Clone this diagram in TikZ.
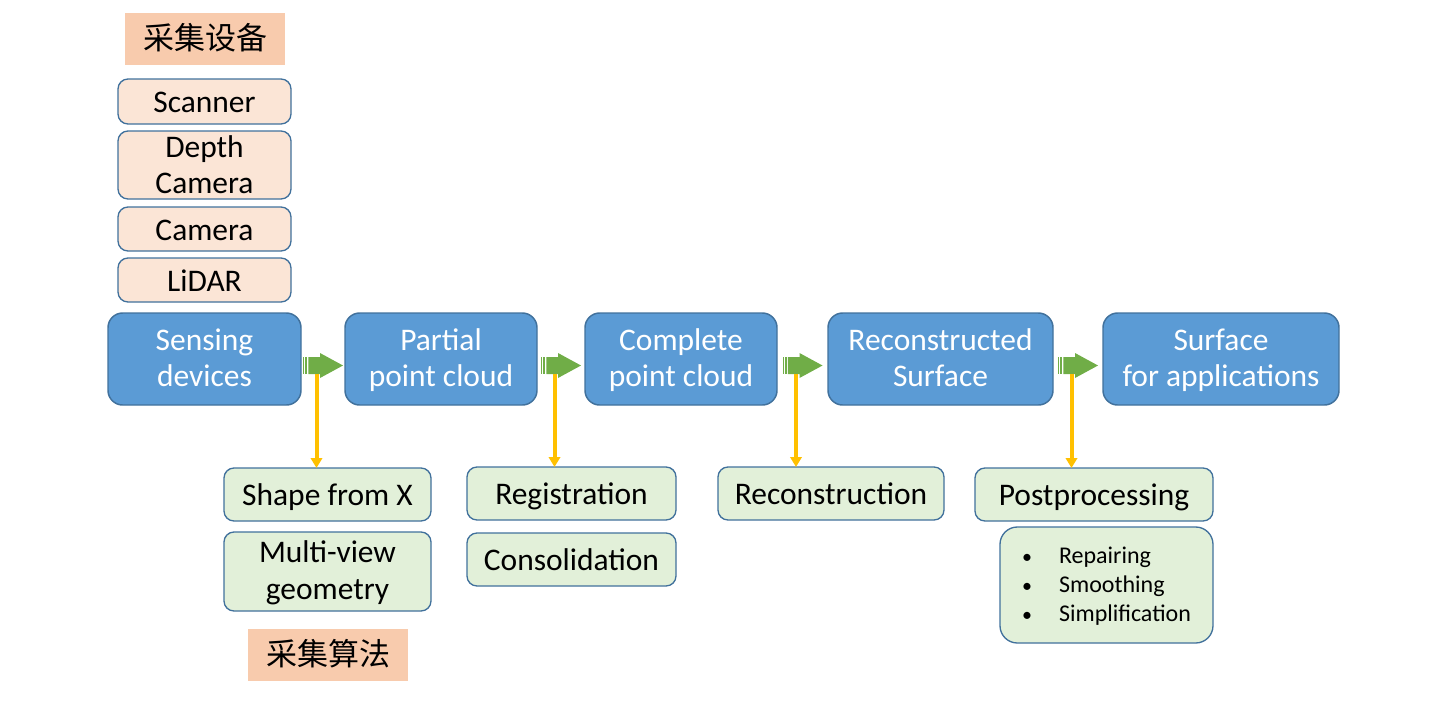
\documentclass[tikz,border=0pt]{standalone}
\usepackage{fontspec}
\setmainfont{Carlito}
\newfontfamily\cjk{Noto Sans CJK SC}
\usetikzlibrary{arrows.meta,calc}
\definecolor{bfill}{HTML}{5B9BD5}
\definecolor{bline}{HTML}{41719C}
\definecolor{pfill}{HTML}{FBE5D6}
\definecolor{gfill}{HTML}{E2F0D9}
\definecolor{lab}{HTML}{F8CBAD}
\definecolor{garr}{HTML}{70AD47}
\definecolor{yarr}{HTML}{FFC000}
\newcommand\bx[7]{\node[#6, minimum width={(#4-#2)*0.75pt}, minimum height={(#5-#3)*0.75pt}] (#1) at ({(#2+#4)/2},{(#3+#5)/2}) {#7};}
\newcommand\sts{\rule[-.245\baselineskip]{0pt}{\baselineskip}}
\newcommand\sto{\rule[-.2\baselineskip]{0pt}{\baselineskip}}
\newcommand\bl{\sts\makebox[27.75pt][l]{{\fontsize{15}{15}\selectfont\textbullet}}}
\newcommand\flow[3]{%
  \coordinate (m#1#2) at ($(#1.east)!.5!(#2.west)$);
  \begin{scope}[shift={(m#1#2)}]
    \fill[garr] (-20,-2) rectangle (-18.6,15);
    \fill[garr] (-17.6,-2) rectangle (-15.6,15);
    \fill[garr] (-14.6,-2) -- (-3,-2) -- (-3,-6) -- (20,6.5) -- (-3,19) -- (-3,15) -- (-14.6,15) -- cycle;
    \coordinate (y#1) at (-6.5,15);
  \end{scope}
  \draw[yline] (y#1) -- (y#1 |- #3.north);
}
\begin{document}
\begin{tikzpicture}[x=0.75pt,y=-0.75pt,
  base/.style={inner sep=0pt, outer sep=0pt, align=center, font=\fontsize{23.6}{27.5}\selectfont},
  main/.style={base, fill=bfill, draw=bline, line width=1.1pt, rounded corners=11pt, text=white},
  dev/.style={base, fill=pfill, draw=bline, line width=1pt, rounded corners=7.5pt},
  alg/.style={base, fill=gfill, draw=bline, line width=1pt, rounded corners=7.5pt},
  lbl/.style={base, fill=lab, font=\cjk\fontsize{23.25}{27}\selectfont},
  yline/.style={draw=yarr, line width=3pt, -{Triangle[width=8.5pt,length=7.5pt]}}]
\useasboundingbox (0,0) rectangle (1436,704);
\bx{lab1}{125}{13}{285}{65}{lbl}{\sto 采集设备}
\bx{scan}{118}{79}{291}{124}{dev}{\sto Scanner}
\bx{dep}{118}{131}{291}{199}{dev, font=\fontsize{23.6}{27}\selectfont}{\rule{0pt}{19.5pt}Depth\\Camera\rule[-4pt]{0pt}{4pt}}
\bx{cam}{118}{207}{291}{251}{dev}{\sto Camera}
\bx{lid}{118}{258}{291}{302}{dev}{\sto LiDAR}
\bx{sd}{108}{313}{301}{405}{main}{\sts Sensing\\\sts devices}
\bx{pc}{345}{313}{537}{405}{main}{\sts Partial\\\sts point cloud}
\bx{cp}{585}{313}{777}{405}{main}{\sts Complete\\\sts point cloud}
\bx{rs}{828}{313}{1053}{405}{main}{\sts Reconstructed\\\sts Surface}
\bx{sa}{1103}{313}{1339}{405}{main}{\sts Surface\\\sts for applications}
\bx{sfx}{224}{468}{431}{521}{alg}{\sto Shape from X}
\bx{mvg}{224}{532}{431}{611}{alg}{\sts Multi-view\\\sts geometry}
\bx{lab2}{248}{629}{408}{681}{lbl}{\sto 采集算法}
\bx{reg}{467}{467}{676}{520}{alg}{\sto Registration}
\bx{con}{467}{533}{676}{586}{alg}{\sto Consolidation}
\bx{rec}{718}{467}{944}{520}{alg}{\sto Reconstruction}
\bx{post}{975}{468}{1213}{521}{alg}{\sto Postprocessing}
\bx{ops}{1000}{527}{1213}{643}{alg, rounded corners=13pt, font=\fontsize{18}{22}\selectfont, align=left}{\bl Repairing\\\bl Smoothing\\\bl Simplification}
\flow{sd}{pc}{sfx}
\flow{pc}{cp}{reg}
\flow{cp}{rs}{rec}
\flow{rs}{sa}{post}
\end{tikzpicture}
\end{document}
